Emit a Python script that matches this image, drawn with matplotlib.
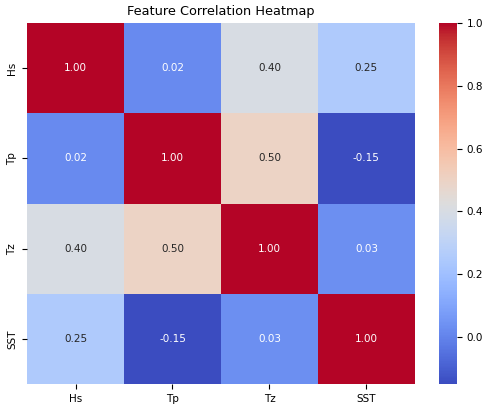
import matplotlib
matplotlib.use("Agg")
import matplotlib.pyplot as plt
import seaborn as sns
import numpy as np
import pandas as pd

features = ["Hs", "Tp", "Tz", "SST"]
row_hs = [1.00, 0.02, 0.40, 0.25]
row_tp = [0.02, 1.00, 0.50, -0.15]
row_tz = [0.40, 0.50, 1.00, 0.03]
row_sst = [0.25, -0.15, 0.03, 1.00]

corr = pd.DataFrame([row_hs, row_tp, row_tz, row_sst], index=features, columns=features)

fig = plt.figure(figsize=(4.83, 4.04), dpi=100)
ax = fig.add_axes([0.056, 0.0495, 0.803, 0.8935])
cax = fig.add_axes([0.909, 0.0495, 0.037, 0.8935])
sns.heatmap(corr, annot=True, fmt=".2f", cmap="coolwarm", ax=ax, cbar_ax=cax,
            annot_kws={"fontsize": 7.5})
ax.set_title("Feature Correlation Heatmap", fontsize=9.3)
ax.tick_params(labelsize=7.5)
cax.tick_params(labelsize=7.5)
cax.set_yticks([0.0, 0.2, 0.4, 0.6, 0.8, 1.0])
fig.savefig("out.png", dpi=100)
